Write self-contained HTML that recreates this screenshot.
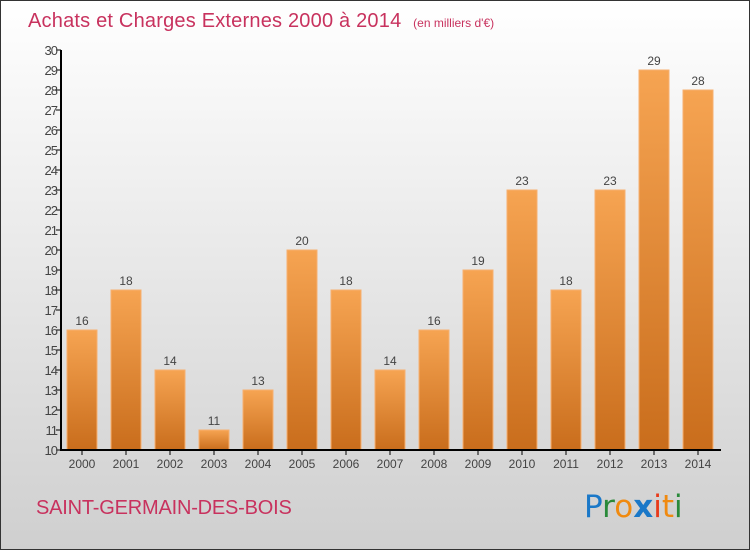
<!DOCTYPE html>
<html><head><meta charset="utf-8"><style>
body{margin:0;}
#wrap{position:relative;width:748px;height:548px;border:1px solid #333;background:linear-gradient(#ffffff,#cfcfcf);overflow:hidden;font-family:"Liberation Sans",sans-serif;}
</style></head><body>
<div id="wrap">
<svg id="chart" width="748" height="548">
<defs><linearGradient id="bg" x1="0" y1="0" x2="0" y2="1"><stop offset="0" stop-color="#f6a452"/><stop offset="1" stop-color="#c96d1c"/></linearGradient></defs>
<text x="27" y="26" font-size="20" fill="#c8325e" letter-spacing="0.2">Achats et Charges Externes 2000 à 2014 <tspan font-size="12" dx="6" letter-spacing="0">(en milliers d'€)</tspan></text>
<text x="35" y="513" font-size="20" fill="#c8325e" letter-spacing="-0.2">SAINT-GERMAIN-DES-BOIS</text>
<g font-size="31" font-family="'DejaVu Sans',sans-serif">
<text x="583" y="516"><tspan fill="#1a78c8">P</tspan><tspan fill="#2a8a3a">r</tspan><tspan fill="#f08a10">o</tspan><tspan fill="#1a78c8" font-weight="bold">x</tspan><tspan fill="#e83a1a">i</tspan><tspan fill="#f08a10">t</tspan><tspan fill="#2a8a3a">i</tspan></text></g>
<g id="plot"></g>
</svg></div>
<script>
const years=["2000","2001","2002","2003","2004","2005","2006","2007","2008","2009","2010","2011","2012","2013","2014"];
const values=[16,18,14,11,13,20,18,14,16,19,23,18,23,29,28];
const yTicks=[10,11,12,13,14,15,16,17,18,19,20,21,22,23,24,25,26,27,28,29,30];
const NS="http://www.w3.org/2000/svg";
const g=document.getElementById('plot');
const y=v=>449-(v-10)*20;
const x=i=>81+i*44;
function mk(t,a){const e=document.createElementNS(NS,t);for(const k in a)e.setAttribute(k,a[k]);g.appendChild(e);return e;}
values.forEach((v,i)=>{
 const r=mk('rect',{x:x(i)-15,y:y(v),width:30,height:y(10)-y(v),fill:'url(#bg)',stroke:'#f7b070','stroke-width':1});
 
 
 const t=mk('text',{x:x(i),y:y(v)-5,'text-anchor':'middle','font-size':12,fill:'#444'});t.textContent=v;
 
 
 const xl=mk('text',{x:x(i),y:467,'text-anchor':'middle','font-size':12,fill:'#444'});xl.textContent=years[i];
 
 
 mk('line',{x1:x(i),x2:x(i),y1:449,y2:454,stroke:'#000'});
});
yTicks.forEach(v=>{
 mk('line',{x1:55,x2:60,y1:y(v),y2:y(v),stroke:'#000'});
 const t=mk('text',{x:56,y:y(v)+5,'text-anchor':'end','font-size':13,fill:'#444','letter-spacing':'-1'});t.textContent=v;
 
 
});
const ya=mk('line',{x1:60,x2:60,y1:y(30),y2:449,stroke:'#000','stroke-width':2});


const xa=mk('line',{x1:59,x2:720,y1:449,y2:449,stroke:'#000','stroke-width':2});


</script>
</body></html>
